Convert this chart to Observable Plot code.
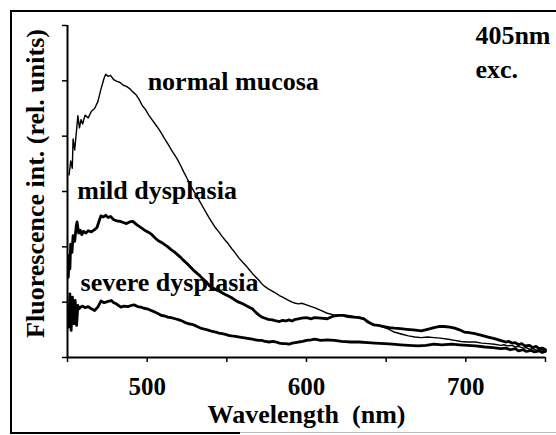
<!DOCTYPE html>
<html>
<head>
<meta charset="utf-8">
<script src="https://cdn.jsdelivr.net/npm/d3@7"></script>
<script src="https://cdn.jsdelivr.net/npm/@observablehq/plot@0.6"></script>
<style>
  html, body { margin: 0; padding: 0; background: #fff; }
  #wrap { position: relative; width: 556px; height: 435px; overflow: hidden; background: #fff; }
  #wrap svg { position: absolute; left: 0; top: 0; }
  .bl { position: absolute; background: #000; }
</style>
</head>
<body>
<div id="wrap">
  <div class="bl" style="left:10px;top:10px;width:2px;height:424px;"></div>
  <div class="bl" style="left:10px;top:10px;width:546px;height:2px;"></div>
  <div class="bl" style="left:10px;top:432px;width:230px;height:2px;"></div>
  <div class="bl" style="left:240px;top:432px;width:316px;height:1px;background:#bbb;"></div>
</div>
<script>
// ---- data ----
const wlNormal = [451,452,453,453.5,454.5,455.5,456.5,457.5,458.5,459.5,461,463,465,467,469,471,473,474,475.5,477,479,481,483,485,487,489,491,493,495,497,499,501,503,505,507,509,511,513,515,517,519,521,523,525,527,529,531,533,535,537,539,541,543,545,547,549,551,553,555,557.5,560,562,564,566,568,570,572,574,576,578.5,581,583,585,587,589,591,593,595,597,600,603,605,609,613,617,620,623,626,629.5,633,636,638,640,642,645,648,651,655,660,664,668,672,676,680,684,689,693,697,701,706,710,714,718,722,724,726,729,731,733,736,738,740,742,745,747,750];
const normalMucosa = [3.30,3.55,3.42,3.95,3.75,4.05,4.37,4.15,4.30,4.22,4.38,4.33,4.45,4.50,4.62,4.85,5.05,5.12,5.08,5.10,5.02,4.99,4.97,4.92,4.90,4.86,4.80,4.75,4.66,4.55,4.48,4.38,4.30,4.22,4.14,4.05,3.95,3.86,3.76,3.67,3.58,3.47,3.35,3.24,3.12,3.02,2.92,2.82,2.72,2.62,2.52,2.43,2.34,2.27,2.19,2.12,2.05,1.97,1.90,1.80,1.72,1.66,1.59,1.52,1.46,1.40,1.33,1.28,1.24,1.20,1.16,1.12,1.09,1.06,1.03,1.00,0.98,0.97,0.98,0.95,0.92,0.90,0.85,0.80,0.77,0.76,0.77,0.76,0.74,0.73,0.71,0.67,0.63,0.60,0.58,0.55,0.52,0.46,0.42,0.39,0.37,0.36,0.37,0.36,0.35,0.33,0.31,0.29,0.28,0.28,0.26,0.25,0.24,0.22,0.23,0.21,0.22,0.19,0.20,0.17,0.18,0.15,0.16,0.13,0.14,0.12];

const wlMild = [450.5,451,451.5,452,452.8,453.5,454.5,455.5,456,457,458,459,460,461.5,463,465,467,468.5,470,471,472.5,474,475.5,477,479,481,483,485,487,489,491,493,495,497,499,501,503,505,507,509,511,513,515,517,519,521,523,525,527,529,531,533,535,537,539,541,543,545,547,549,551,553,555,557.5,560,562,564,566,568,570,572,574,576,578.5,581,583,585,587,589,591,593,595,597,600,603,605,609,613,617,620,623,626,629.5,633,636,638,640,642,645,648.6,652,655,659,663,667,672,676,680,683,686.5,690,693,696,699,702,705.7,710,714,718,722.6,725,727,729,731,733,735,737,740,742,744,746,748,750];
const mildDysplasia = [1.45,1.85,1.60,2.05,1.90,2.20,2.10,2.38,2.45,2.25,2.30,2.22,2.28,2.25,2.29,2.27,2.31,2.35,2.48,2.56,2.54,2.57,2.53,2.55,2.49,2.47,2.46,2.44,2.42,2.45,2.46,2.41,2.37,2.33,2.29,2.26,2.22,2.16,2.11,2.08,2.04,2.00,1.95,1.91,1.86,1.81,1.75,1.70,1.64,1.58,1.53,1.48,1.42,1.37,1.30,1.26,1.23,1.20,1.17,1.14,1.11,1.08,1.04,1.00,0.97,0.94,0.91,0.88,0.82,0.77,0.73,0.71,0.69,0.68,0.66,0.65,0.67,0.66,0.68,0.66,0.69,0.70,0.71,0.72,0.70,0.72,0.71,0.70,0.75,0.76,0.76,0.74,0.73,0.72,0.70,0.65,0.62,0.59,0.58,0.56,0.54,0.53,0.52,0.51,0.50,0.48,0.51,0.54,0.56,0.56,0.55,0.53,0.50,0.46,0.45,0.43,0.40,0.37,0.34,0.30,0.28,0.29,0.26,0.27,0.23,0.25,0.21,0.22,0.18,0.20,0.16,0.17,0.14];

const wlSevere = [450.8,451.5,452.3,453.1,454,454.8,455.7,456.5,457.3,458,459.5,461,463,465,467,469,471,473,475,477.5,479,480.6,482,483.6,485.5,487.8,490,492,494,496,498,500,502.5,505,507,509,511,513,515,517.6,520,522,524,526,528,530,532,534.6,536.5,538.8,541,543,545,547,549,551,553,555.6,558,560,562,564,566,568,570,572,574,576.5,579,581,583,585,587,589,591,593,595,597.6,600,603,605,609,613,617.5,622,628,633,638.5,643,649,654,659,664,670,675,680,685,691,696,701,706,712,717,722,725,728,731,733,736,738,741,743,746,748,750];
const severeDysplasia = [0.55,1.15,0.49,1.09,0.61,1.03,0.58,0.94,0.88,0.91,0.93,0.90,0.92,0.88,0.85,0.91,1.02,0.99,1.01,1.03,0.99,0.97,0.94,0.91,0.93,0.92,0.94,0.95,0.92,0.91,0.89,0.88,0.85,0.82,0.79,0.76,0.75,0.73,0.72,0.70,0.68,0.66,0.63,0.61,0.60,0.58,0.55,0.52,0.51,0.49,0.47,0.46,0.44,0.43,0.42,0.40,0.39,0.38,0.37,0.36,0.35,0.34,0.33,0.32,0.31,0.31,0.29,0.28,0.29,0.28,0.26,0.25,0.25,0.24,0.26,0.27,0.28,0.29,0.31,0.32,0.33,0.31,0.32,0.31,0.29,0.28,0.28,0.27,0.26,0.25,0.24,0.23,0.22,0.21,0.22,0.24,0.23,0.24,0.23,0.22,0.21,0.19,0.18,0.16,0.17,0.14,0.16,0.12,0.14,0.11,0.13,0.10,0.12,0.09,0.11];

const xTicks = [450, 500, 550, 600, 650, 700, 750];
const xTickLabels = [500, 600, 700];
const yTicks = [0, 1, 2, 3, 4, 5, 6];
const seriesNames = ["normal mucosa", "mild dysplasia", "severe dysplasia"];
const labelWl = [500.3, 456.1, 458.2];
const labelVal = [4.83, 2.87, 1.21];
const noteLines = ["405nm", "exc."];
const noteWl = [706, 706];
const noteVal = [5.66, 5.06];
const xTitle = "Wavelength\u00a0 (nm)";
const yTitle = "Fluorescence int. (rel. units)";

// ---- build tables ----
const rows = (wl, v) => wl.map((w, i) => ({wl: w, v: v[i]}));
const normalRows = rows(wlNormal, normalMucosa);
const mildRows = rows(wlMild, mildDysplasia);
const severeRows = rows(wlSevere, severeDysplasia);
const labels = seriesNames.map((t, i) => ({t, wl: labelWl[i], v: labelVal[i]}));
const notes = noteLines.map((t, i) => ({t, wl: noteWl[i], v: noteVal[i]}));

const font = "'Liberation Serif', 'Times New Roman', serif";

const chart = Plot.plot({
  width: 556,
  height: 435,
  marginLeft: 67,
  marginRight: 11,
  marginTop: 25,
  marginBottom: 78,
  x: {domain: [450, 750]},
  y: {domain: [0, 6]},
  style: {fontFamily: font, fontWeight: "bold", background: "transparent", color: "#000"},
  marks: [
    Plot.axisY({ticks: yTicks, tickSize: 5, tickFormat: () => "", label: null, strokeWidth: 1.5}),
    Plot.axisX({ticks: xTicks, tickSize: 5, tickFormat: () => "", label: null, strokeWidth: 1.5}),
    Plot.axisX({ticks: xTickLabels, tickSize: 0, tickPadding: 20, fontSize: 25, fontWeight: "bold", fontFamily: font, label: null, tickFormat: d => String(d)}),
    Plot.ruleX([450], {strokeWidth: 2}),
    Plot.ruleY([0], {strokeWidth: 2}),
    Plot.line(normalRows, {x: "wl", y: "v", stroke: "#000", strokeWidth: 1.4, strokeLinejoin: "round"}),
    Plot.line(mildRows, {x: "wl", y: "v", stroke: "#000", strokeWidth: 2.8, strokeLinejoin: "round"}),
    Plot.line(severeRows, {x: "wl", y: "v", stroke: "#000", strokeWidth: 2.8, strokeLinejoin: "round"}),
    Plot.text(labels, {x: "wl", y: "v", text: "t", textAnchor: "start", lineAnchor: "bottom", fontSize: 26, fontWeight: "bold", fontFamily: font, fill: "#000"}),
    Plot.text(notes, {x: "wl", y: "v", text: "t", textAnchor: "start", lineAnchor: "bottom", fontSize: 26, fontWeight: "bold", fontFamily: font, fill: "#000"}),
    Plot.text([xTitle], {frameAnchor: "bottom", dy: 65, lineAnchor: "bottom", textAnchor: "middle", fontSize: 26, fontWeight: "bold", fontFamily: font, fill: "#000"}),
    Plot.text([yTitle], {frameAnchor: "left", rotate: -90, dx: -24, dy: -8, lineAnchor: "bottom", textAnchor: "middle", fontSize: 26, fontWeight: "bold", fontFamily: font, fill: "#000"})
  ]
});
document.getElementById("wrap").appendChild(chart);
</script>
</body>
</html>
